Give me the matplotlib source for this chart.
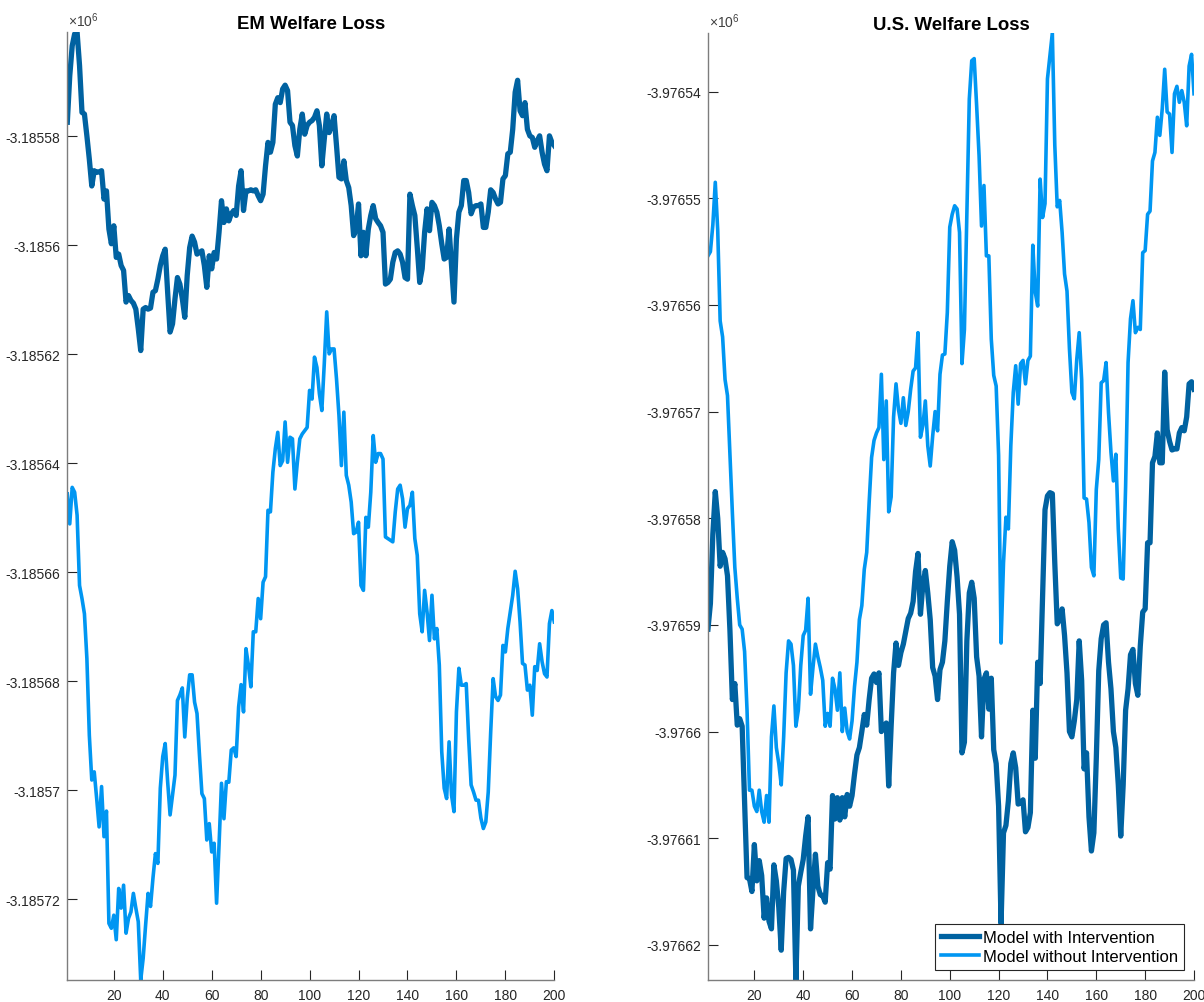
import matplotlib
matplotlib.use("Agg")
import matplotlib.pyplot as plt
from matplotlib.ticker import MultipleLocator, FuncFormatter
import numpy as np

plt.rcParams['font.family'] = ['Liberation Sans', 'DejaVu Sans']
plt.rcParams['mathtext.fontset'] = 'custom'
plt.rcParams['mathtext.rm'] = 'Liberation Sans'

periods = np.arange(1, 201)

# welfare loss paths, written as deviations from a reference level
em_ref = -3185600.0
em_with_dev = [
    22.6, 31.1, 36.6, 38.8, 39.1, 33.0, 24.4, 24.1, 20.1, 15.8,
    10.9, 13.7, 13.4, 13.5, 13.7, 8.5, 10.0, 3.0, 0.3, 3.6,
    -2.2, -1.6, -3.7, -4.6, -10.4, -9.2, -10.1, -10.6, -11.7, -15.3,
    -19.3, -11.7, -11.4, -11.7, -11.5, -8.6, -8.3, -6.2, -3.7, -1.9,
    -0.7, -8.6, -15.9, -14.4, -9.8, -5.9, -7.1, -9.8, -13.2, -5.5,
    -0.4, 1.7, 0.6, -1.6, -1.3, -1.0, -3.7, -7.7, -1.9, -4.3,
    -1.3, -2.5, 2.4, 8.2, 4.2, 6.7, 4.5, 5.8, 6.4, 5.5,
    10.9, 13.7, 6.4, 10.0, 10.0, 10.2, 10.0, 10.2, 9.1, 8.2,
    9.4, 14.6, 18.9, 17.1, 18.9, 25.9, 27.1, 26.2, 28.7, 29.4,
    28.4, 22.6, 22.0, 18.3, 16.4, 21.3, 24.1, 20.4, 22.0, 22.6,
    22.9, 23.5, 24.7, 22.0, 14.6, 19.5, 24.1, 20.7, 22.0, 23.8,
    18.3, 12.5, 12.2, 15.5, 11.9, 10.6, 7.3, 1.8, 3.0, 7.6,
    -1.9, 2.4, -1.9, 3.0, 5.5, 7.3, 4.9, 4.2, 3.6, 2.4,
    -7.1, -6.8, -6.2, -3.1, -1.3, -1.0, -1.6, -3.1, -5.9, -6.2,
    9.4, 7.3, 5.5, -0.4, -6.8, -4.3, 2.4, 6.7, 2.7, 7.9,
    7.3, 6.1, 3.6, 0.3, -2.5, -2.2, 3.0, -3.7, -10.4, 1.2,
    6.1, 7.3, 11.9, 11.9, 9.7, 5.8, 7.0, 7.3, 7.3, 7.6,
    3.3, 3.3, 6.1, 10.2, 9.7, 8.5, 7.6, 7.9, 12.2, 12.8,
    16.8, 17.1, 21.3, 28.1, 30.3, 24.7, 23.8, 26.2, 21.3, 20.1,
    19.8, 18.0, 19.2, 20.1, 17.1, 14.9, 13.7, 20.1, 18.9, 18.3,
]
em_without_dev = [
    -45.6, -51.1, -44.4, -45.3, -49.5, -62.4, -64.8, -67.6, -75.8, -89.9,
    -98.1, -96.6, -101.5, -106.7, -99.3, -108.5, -103.8, -124.4, -125.3, -122.9,
    -127.4, -118.0, -121.6, -117.4, -126.2, -123.5, -122.3, -118.9, -121.6, -124.1,
    -134.8, -130.8, -124.7, -118.9, -121.3, -116.1, -111.6, -113.4, -99.6, -93.8,
    -91.4, -98.4, -104.5, -100.9, -97.2, -83.5, -82.5, -81.2, -90.2, -83.2,
    -78.8, -78.8, -83.8, -85.9, -93.5, -100.6, -101.5, -109.1, -106.1, -111.3,
    -109.7, -120.7, -110.0, -98.7, -105.2, -98.4, -98.5, -92.6, -92.2, -93.8,
    -84.7, -80.6, -85.6, -74.0, -77.0, -81.0, -70.9, -70.9, -64.8, -68.5,
    -61.8, -60.8, -48.6, -48.9, -41.6, -37.3, -34.3, -40.4, -39.5, -32.4,
    -39.8, -35.2, -35.5, -44.7, -39.8, -35.5, -34.6, -34.0, -33.4, -26.6,
    -28.2, -20.5, -22.4, -27.2, -30.3, -21.7, -12.2, -19.9, -19.0, -19.0,
    -24.5, -31.2, -40.4, -30.6, -42.2, -44.0, -47.1, -52.9, -52.6, -50.8,
    -62.4, -63.3, -49.9, -51.7, -45.3, -34.9, -39.8, -38.2, -38.2, -39.2,
    -53.5, -53.8, -54.1, -54.4, -48.9, -44.7, -44.0, -46.5, -51.7, -48.3,
    -47.7, -45.3, -53.8, -56.9, -67.6, -70.9, -63.3, -67.3, -72.5, -64.2,
    -72.2, -70.3, -77.0, -92.9, -99.6, -101.5, -91.1, -100.9, -103.9, -85.6,
    -77.6, -80.7, -80.7, -80.4, -90.5, -99.0, -100.3, -101.8, -101.8, -105.1,
    -107.0, -105.8, -100.3, -89.3, -79.5, -82.8, -83.5, -82.5, -73.4, -74.6,
    -70.3, -67.3, -64.2, -59.8, -63.0, -69.1, -76.7, -77.0, -81.6, -80.7,
    -86.2, -77.3, -78.0, -73.1, -76.4, -78.6, -79.2, -69.4, -67.0, -69.1,
]

us_ref = -3976580.0
us_with_dev = [
    -10.4, -8.0, -1.5, 2.5, 0.0, -4.5, -3.2, -3.8, -5.4, -10.5,
    -17.0, -15.5, -19.4, -18.8, -19.5, -26.5, -33.7, -33.8, -35.0, -30.6,
    -34.0, -32.1, -33.5, -37.5, -35.6, -37.8, -38.5, -32.5, -34.0, -36.5,
    -40.5, -35.0, -31.9, -31.8, -32.0, -33.0, -43.3, -34.5, -33.2, -32.0,
    -29.8, -28.0, -38.5, -34.8, -31.5, -34.5, -35.3, -35.4, -36.0, -32.3,
    -32.9, -26.0, -28.2, -26.2, -28.3, -26.2, -28.0, -25.9, -27.0, -26.0,
    -24.0, -22.2, -21.5, -20.0, -18.4, -19.4, -17.0, -15.0, -14.6, -15.4,
    -14.5, -20.0, -19.5, -19.2, -25.1, -19.5, -14.5, -11.7, -13.8, -12.6,
    -11.8, -10.6, -9.4, -8.9, -7.8, -5.0, -3.3, -9.0, -6.2, -4.9,
    -7.0, -9.5, -14.0, -14.8, -17.0, -14.2, -13.5, -11.5, -7.8, -4.5,
    -2.2, -3.0, -5.5, -9.0, -22.0, -21.0, -11.5, -7.0, -6.0, -7.5,
    -13.0, -14.8, -20.5, -15.1, -14.5, -17.9, -15.0, -21.7, -23.0, -27.0,
    -38.0, -29.5, -28.8, -26.5, -23.0, -22.0, -23.4, -26.8, -26.7, -26.4,
    -29.4, -29.0, -27.6, -18.0, -22.5, -13.5, -15.5, -7.5, 0.8, 2.1,
    2.4, 2.3, -4.2, -9.9, -9.5, -8.5, -11.0, -14.5, -20.0, -20.5,
    -19.0, -17.0, -11.5, -15.2, -23.5, -22.0, -28.0, -31.2, -29.5, -22.5,
    -14.3, -11.3, -10.0, -9.8, -13.5, -16.0, -20.0, -21.5, -25.0, -29.8,
    -25.0, -18.0, -16.0, -12.8, -12.3, -15.5, -16.6, -12.0, -8.8, -8.5,
    -2.3, -2.3, 5.2, 5.8, 8.0, 5.2, 5.2, 13.7, 8.3, 7.2,
    6.4, 6.5, 6.5, 8.0, 8.5, 8.2, 9.5, 12.6, 12.8, 12.1,
]
us_without_dev = [
    24.6, 25.0, 27.5, 31.5, 27.0, 18.5, 17.0, 13.0, 11.5, 6.0,
    0.5, -4.6, -7.5, -10.0, -10.4, -12.5, -18.0, -25.5, -25.5, -27.0,
    -27.5, -25.5, -27.5, -28.5, -26.0, -28.5, -20.5, -17.6, -21.5, -23.0,
    -25.0, -20.5, -14.5, -11.5, -11.8, -13.8, -19.5, -18.0, -13.8, -11.0,
    -10.5, -7.5, -16.5, -14.0, -11.8, -13.0, -14.0, -15.2, -19.5, -18.3,
    -19.5, -15.0, -16.0, -18.0, -14.5, -20.0, -17.8, -20.0, -20.7, -19.0,
    -15.8, -13.5, -9.5, -8.2, -4.8, -3.2, 1.5, 5.7, 7.3, 8.0,
    8.5, 13.5, 5.5, 11.0, 0.6, 2.0, 9.5, 12.6, 10.2, 8.9,
    11.3, 8.7, 10.0, 12.1, 13.8, 14.1, 17.4, 7.6, 8.7, 11.0,
    6.8, 4.9, 7.7, 10.0, 8.2, 13.5, 15.3, 15.4, 19.3, 27.3,
    28.5, 29.3, 29.0, 26.8, 14.5, 17.7, 28.4, 39.3, 42.9, 43.1,
    38.7, 34.0, 27.4, 31.2, 24.6, 24.6, 16.8, 13.4, 12.4, 5.9,
    -11.7, -4.2, 0.1, -1.0, 6.8, 11.8, 14.3, 10.7, 14.5, 14.8,
    12.6, 14.8, 15.2, 25.6, 21.2, 19.9, 31.8, 28.2, 29.5, 41.2,
    43.4, 45.5, 35.0, 29.2, 29.8, 26.8, 22.9, 21.3, 15.9, 11.8,
    11.2, 14.9, 17.4, 13.0, 1.9, 1.8, -0.4, -4.6, -5.4, 2.7,
    5.5, 12.7, 12.9, 14.6, 9.9, 6.2, 3.5, 6.0, -1.0, -5.6,
    -5.7, 3.0, 14.6, 18.7, 20.4, 17.4, 17.9, 17.7, 24.9, 25.1,
    28.5, 28.8, 33.5, 34.3, 37.6, 35.9, 38.4, 42.1, 38.1, 37.9,
    34.3, 39.8, 40.5, 39.0, 40.1, 39.0, 36.8, 42.4, 43.5, 39.8,
]

em_with = em_ref + np.array(em_with_dev)
em_without = em_ref + np.array(em_without_dev)
us_with = us_ref + np.array(us_with_dev)
us_without = us_ref + np.array(us_without_dev)

series_labels = ['Model with Intervention', 'Model without Intervention']
dark_blue = '#0062a1'
light_blue = '#0096f2'
axis_col = '#262626'


def millions(v, pos):
    # tick labels are shown in units of 1e6, trailing zeros dropped
    return f'{v / 1e6:.5f}'.rstrip('0').rstrip('.')


def setup_axes(ax, title, ystep, lo, hi):
    ax.set_xlim(1, 200)
    ax.set_ylim(lo, hi)
    ax.xaxis.set_major_locator(MultipleLocator(20))
    ax.yaxis.set_major_locator(MultipleLocator(ystep))
    ax.yaxis.set_major_formatter(FuncFormatter(millions))
    for side in ['top', 'right']:
        ax.spines[side].set_visible(False)
    for side in ['left', 'bottom']:
        ax.spines[side].set_color('#7d7d7d')
        ax.spines[side].set_linewidth(1.0)
    ax.tick_params(direction='in', length=7, width=0.8, color=axis_col,
                   labelcolor=axis_col, labelsize=10)
    ax.tick_params(axis='y', pad=5)
    ax.tick_params(axis='x', pad=6)
    ax.set_title(title, fontsize=13.4, fontweight='bold', pad=2.5)
    ax.text(0.002, 1.003, r'$\times10^{6}$', transform=ax.transAxes,
            ha='left', va='bottom', fontsize=10, color='#404040')


fig = plt.figure(figsize=(12.04, 10.03), dpi=100)
ax1 = fig.add_axes([0.0559, 0.0219, 0.4045, 0.9449])
ax2 = fig.add_axes([0.5880, 0.0219, 0.4037, 0.9442])

ax1.plot(periods, em_with, color=dark_blue, lw=3.8, solid_joinstyle='round')
ax1.plot(periods, em_without, color=light_blue, lw=2.6, solid_joinstyle='round')
em_all = np.concatenate([em_with, em_without])
setup_axes(ax1, 'EM Welfare Loss', 20, em_all.min(), em_all.max())

l1, = ax2.plot(periods, us_with, color=dark_blue, lw=3.8, solid_joinstyle='round')
l2, = ax2.plot(periods, us_without, color=light_blue, lw=2.6, solid_joinstyle='round')
us_all = np.concatenate([us_with, us_without])
setup_axes(ax2, 'U.S. Welfare Loss', 10, us_all.min(), us_all.max())

leg = ax2.legend([l1, l2], series_labels, loc='lower right', fontsize=12,
                 fancybox=False, framealpha=1, edgecolor=axis_col,
                 borderaxespad=0.6, borderpad=0.35, handlelength=2.3,
                 handletextpad=0.25, labelspacing=0.25)
leg.get_frame().set_linewidth(0.8)

fig.savefig('out.png', dpi=100)
